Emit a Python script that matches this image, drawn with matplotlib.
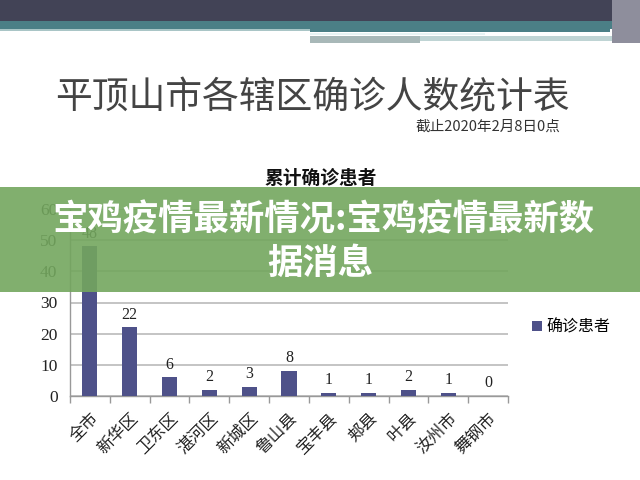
import matplotlib.pyplot as plt
from matplotlib.patches import Rectangle

plt.rcParams['font.family'] = ['Noto Sans CJK SC', 'DejaVu Sans']

# --- data ---
districts = ["全市", "新华区", "卫东区", "湛河区", "新城区", "鲁山县",
             "宝丰县", "郏县", "叶县", "汝州市", "舞钢市"]
confirmed = [48, 22, 6, 2, 3, 8, 1, 1, 2, 1, 0]
y_ticks = [0, 10, 20, 30, 40, 50, 60]

BAR = "#4E5189"
GRID = "#C4C4C4"
SERIF = ["Liberation Serif", "DejaVu Serif"]

fig = plt.figure(figsize=(6.4, 4.8), dpi=100)
fig.patch.set_facecolor("white")

# --- slide header stripes (figure coords) ---
def band(x0, y0, x1, y1, color, z=1):
    fig.patches.append(Rectangle((x0 / 640, 1 - y1 / 480), (x1 - x0) / 640,
                                 (y1 - y0) / 480, transform=fig.transFigure,
                                 facecolor=color, edgecolor="none", zorder=z))

band(0, 0, 640, 21, "#424356")
band(0, 21, 640, 29, "#4B7F86")
band(0, 29, 310, 31, "#A9C5C6")
band(310, 29, 610, 32, "#4B7F86")
band(310, 33, 485, 35, "#E8F4F4")
band(310, 36, 420, 43, "#A8B8B8")
band(420, 36, 612, 41, "#BFD4D4")
band(612, 0, 640, 43, "#8E8E9C")

# --- titles ---
fig.text(312 / 640, 1 - 98 / 480, "平顶山市各辖区确诊人数统计表", ha="center", va="center",
         fontsize=26.5, fontweight="light", color="#444444")
fig.text(560 / 640, 1 - 127 / 480, "截止2020年2月8日0点", ha="right", va="center",
         fontsize=10.5, color="#333333")
fig.text(321 / 640, 1 - 178 / 480, "累计确诊患者", ha="center", va="center",
         fontsize=13.5, fontweight="bold", color="#111111")

# --- chart ---
ax = fig.add_axes([70 / 640, 1 - 396 / 480, 438 / 640, 187 / 480])
x = range(len(districts))
bars = ax.bar(x, confirmed, width=0.38, color=BAR, zorder=3, label="确诊患者")
for xi, v in zip(x, confirmed):
    ax.text(xi, v + 1.5, str(v), ha="center", va="bottom", fontsize=11.5,
            family=SERIF, color="#222222", zorder=4)

ax.set_xlim(-0.5, len(districts) - 0.5)
ax.set_ylim(0, 60)
ax.set_yticks(y_ticks)
ax.set_yticklabels([str(t) for t in y_ticks], family=SERIF, fontsize=12.5)
ax.yaxis.grid(True, color=GRID, linewidth=1.4, zorder=0)
ax.set_axisbelow(True)
ax.tick_params(axis="y", length=0, pad=9, colors="#222222")

ax.set_xticks([i - 0.5 for i in range(len(districts) + 1)], minor=True)
ax.set_xticks(list(x))
ax.set_xticklabels(districts, rotation=45, ha="right", rotation_mode="anchor",
                   fontsize=12, color="#222222")
ax.tick_params(axis="x", which="major", length=0, pad=10)
ax.tick_params(axis="x", which="minor", length=5, color="#999999", width=1)

for s in ["top", "right"]:
    ax.spines[s].set_visible(False)
ax.spines["left"].set_color("#999999")
ax.spines["bottom"].set_color("#999999")
ax.spines["left"].set_linewidth(1)
ax.spines["bottom"].set_linewidth(1)
ax.set_facecolor("none")

fig.legend(handles=[bars], labels=["确诊患者"], loc="center left",
           bbox_to_anchor=(518 / 640, 1 - 327 / 480), frameon=False,
           fontsize=11.5, handlelength=0.6, handleheight=0.6, handletextpad=0.3)

# --- green overlay banner ---
band(0, 187, 640, 292, (0.45, 0.65, 0.37, 0.9), z=10)
fig.text(323 / 640, 1 - 220 / 480, "宝鸡疫情最新情况:宝鸡疫情最新数", ha="center",
         va="center", fontsize=25.5, fontweight="bold", color="white", zorder=11)
fig.text(320 / 640, 1 - 263 / 480, "据消息", ha="center", va="center",
         fontsize=25.5, fontweight="bold", color="white", zorder=11)

fig.savefig("out.png", dpi=100)
